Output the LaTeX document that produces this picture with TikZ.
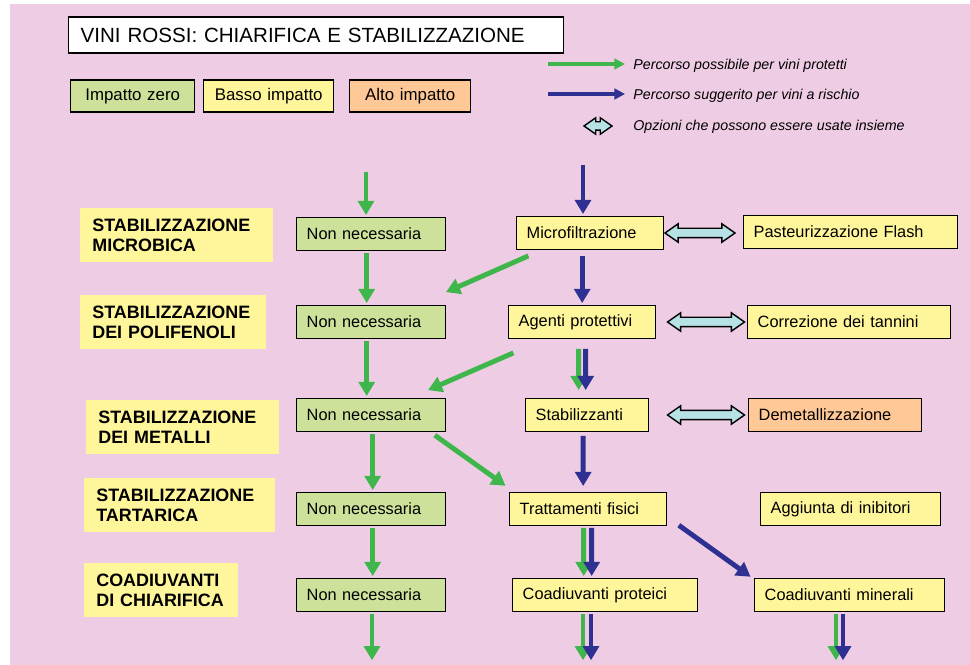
\documentclass[tikz,border=0pt]{standalone}
\usepackage{fontspec}
\setmainfont{Liberation Sans}
\usetikzlibrary{shapes.arrows,arrows.meta,positioning}
\definecolor{bgpink}{RGB}{238,205,228}
\definecolor{zerogreen}{RGB}{205,225,155}
\definecolor{lowyellow}{RGB}{255,246,155}
\definecolor{highorange}{RGB}{255,200,150}
\definecolor{optcyan}{RGB}{182,226,230}
\definecolor{protgreen}{RGB}{62,182,75}
\definecolor{riskblue}{RGB}{46,49,146}

\begin{document}
\begin{tikzpicture}[x=0.02cm, y=-0.02cm,
    box/.style={draw, line width=0.8pt, minimum height=0.66cm, inner xsep=0.2cm,
        anchor=west, align=left, font=\fontsize{9.3}{11}\selectfont},
    zerobox/.style={box, fill=zerogreen},
    lowbox/.style={box, fill=lowyellow},
    highbox/.style={box, fill=highorange},
    keybox/.style={box, align=center, minimum height=0.64cm, font=\fontsize{9.6}{11}\selectfont},
    phase/.style={fill=lowyellow, anchor=west, align=left, inner xsep=0.24cm,
        minimum height=1.08cm, font=\bfseries\fontsize{10.2}{11.5}\selectfont},
    keytext/.style={anchor=west, inner sep=0pt, font=\itshape\fontsize{8.1}{9}\selectfont},
    protpath/.style={draw=protgreen, line width=2.8pt, shorten <=1pt, shorten >=1pt,
        -{Triangle[width=9pt,length=8pt]}},
    riskpath/.style={draw=riskblue, line width=2.8pt, shorten <=1pt, shorten >=1pt,
        -{Triangle[width=9pt,length=8pt]}},
    keyline/.style={line width=1.8pt, shorten <=0pt, shorten >=0pt,
        -{Triangle[width=6pt,length=6pt]}},
    optarrow/.style={double arrow, draw, fill=optcyan, line width=0.8pt,
        inner xsep=0pt, inner ysep=0.08cm, minimum width=0.34cm, minimum height=1.4cm,
        double arrow head extend=0.09cm, double arrow tip angle=70}
]
    % Page and background
    \useasboundingbox (0,0) rectangle (970,665);
    \fill[white] (0,0) rectangle (970,665);
    \fill[bgpink] (10,4) rectangle (970,665);

    % Title and legend
    \node[box, fill=white, inner xsep=0.24cm, text width=9.42cm, minimum height=0.72cm,
        font=\fontsize{11.7}{13}\selectfont] (title) at (68,35) {VINI ROSSI: CHIARIFICA E STABILIZZAZIONE};
    \node[keybox, fill=zerogreen, text width=2.08cm] (kzero) at (70,96) {Impatto zero};
    \node[keybox, fill=lowyellow, text width=2.2cm] (klow) at (203,96) {Basso impatto};
    \node[keybox, fill=highorange, text width=2.02cm] (khigh) at (349,96) {Alto impatto};

    \node[keytext] (kprot) at (633,66) {Percorso possibile per vini protetti};
    \node[keytext] (krisk) at (633,96) {Percorso suggerito per vini a rischio};
    \node[keytext] (kopt) at (633,127) {Opzioni che possono essere usate insieme};
    \coordinate (kp1) at (548,64);
    \coordinate (kp2) at (625,64);
    \coordinate (kr1) at (548,94);
    \coordinate (kr2) at (625,94);
    \draw[protpath, keyline] (kp1) -- (kp2);
    \draw[riskpath, keyline] (kr1) -- (kr2);
    \node[optarrow, minimum height=0.56cm, minimum width=0.3cm, inner ysep=0.07cm,
        double arrow head extend=0.08cm] (kdbl) at (598,126) {};

    % Phases
    \node[phase, text width=3.38cm] (ph1) at (80,235) {STABILIZZAZIONE\\MICROBICA};
    \node[phase, text width=3.24cm] (ph2) at (80,322) {STABILIZZAZIONE\\DEI POLIFENOLI};
    \node[phase, text width=3.38cm] (ph3) at (86,427) {STABILIZZAZIONE\\DEI METALLI};
    \node[phase, text width=3.34cm] (ph4) at (84,505) {STABILIZZAZIONE\\TARTARICA};
    \node[phase, text width=2.6cm] (ph5) at (84,590) {COADIUVANTI\\DI CHIARIFICA};

    % Protected wines column
    \node[zerobox, text width=2.58cm] (nn1) at (296,234) {Non necessaria};
    \node[zerobox, text width=2.58cm] (nn2) at (296,322) {Non necessaria};
    \node[zerobox, text width=2.58cm] (nn3) at (296,415) {Non necessaria};
    \node[zerobox, text width=2.58cm] (nn4) at (296,509) {Non necessaria};
    \node[zerobox, text width=2.58cm] (nn5) at (296,595) {Non necessaria};

    % Treatments
    \node[lowbox, text width=2.54cm] (micro) at (516,233) {Microfiltrazione};
    \node[lowbox, text width=2.54cm] (agenti) at (508,322) {Agenti protettivi};
    \node[lowbox, text width=2.06cm] (stab) at (525,415) {Stabilizzanti};
    \node[lowbox, text width=2.74cm] (tratt) at (509,509) {Trattamenti fisici};
    \node[lowbox, text width=3.3cm] (proteici) at (512,595) {Coadiuvanti proteici};

    % Options
    \node[lowbox, text width=3.88cm] (flash) at (743,232) {Pasteurizzazione Flash};
    \node[lowbox, text width=3.66cm] (tannini) at (747,322) {Correzione dei tannini};
    \node[highbox, text width=3.06cm] (demet) at (748,415) {Demetallizzazione};
    \node[lowbox, text width=3.2cm] (inib) at (760,509) {Aggiunta di inibitori};
    \node[lowbox, text width=3.4cm] (minerali) at (754,595) {Coadiuvanti minerali};

    \node[optarrow] (opt1) at (700,233) {};
    \node[optarrow, minimum height=1.54cm] (opt2) at (706,322) {};
    \node[optarrow, minimum height=1.54cm] (opt3) at (706,415) {};

    % Entry and exit points
    \coordinate (gin) at (366,170);
    \coordinate (bin) at (583,163);
    \coordinate (gout) at (372,662);
    \coordinate (pgout) at (583,662);
    \coordinate (pbout) at (591,662);
    \coordinate (mgout) at (836,662);
    \coordinate (mbout) at (843,662);

    % Green paths
    \draw[protpath] (gin) -- (gin |- nn1.north);
    \draw[protpath] ([xshift=-0.09cm]nn1.south) -- ([xshift=-0.09cm]nn2.north);
    \draw[protpath] ([xshift=-0.09cm]nn2.south) -- ([xshift=-0.09cm]nn3.north);
    \draw[protpath] ([xshift=0.03cm]nn3.south) -- ([xshift=0.03cm]nn4.north);
    \draw[protpath] ([xshift=0.03cm]nn4.south) -- ([xshift=0.03cm]nn5.north);
    \draw[protpath] (gout |- nn5.south) -- (gout);
    \draw[protpath] ([shift={(14,5)}]micro.south west) -- ([shift={(-2,-12)}]nn2.north east);
    \draw[protpath] ([shift={(7,13)}]agenti.south west) -- ([shift={(-20,-7)}]nn3.north east);
    \draw[protpath] ([shift={(-13,2)}]nn3.south east) -- ([shift={(-2,-5)}]tratt.north west);
    \draw[protpath] ([shift={(-3.5,8)}]agenti.south) -- ([shift={(-8.5,-6)}]stab.north);
    \draw[protpath] ([shift={(-4.5,0)}]tratt.south) -- ([shift={(-21.5,0)}]proteici.north);
    \draw[protpath] (pgout |- proteici.south) -- (pgout);
    \draw[protpath] (mgout |- minerali.south) -- (mgout);

    % Blue paths
    \draw[riskpath] (bin) -- (bin |- micro.north);
    \draw[riskpath] ([shift={(0,4)}]agenti.north |- micro.south) -- (agenti.north);
    \draw[riskpath] ([shift={(3.5,8)}]agenti.south) -- ([shift={(-1.5,-6)}]stab.north);
    \draw[riskpath] ([shift={(-4,2)}]stab.south) -- ([shift={(-5,-4)}]tratt.north);
    \draw[riskpath] ([shift={(3.5,0)}]tratt.south) -- ([shift={(-13.5,0)}]proteici.north);
    \draw[riskpath] (pbout |- proteici.south) -- (pbout);
    \draw[riskpath] ([shift={(10,-2)}]tratt.south east) -- ([shift={(-2,0)}]minerali.north west);
    \draw[riskpath] (mbout |- minerali.south) -- (mbout);
\end{tikzpicture}
\end{document}
